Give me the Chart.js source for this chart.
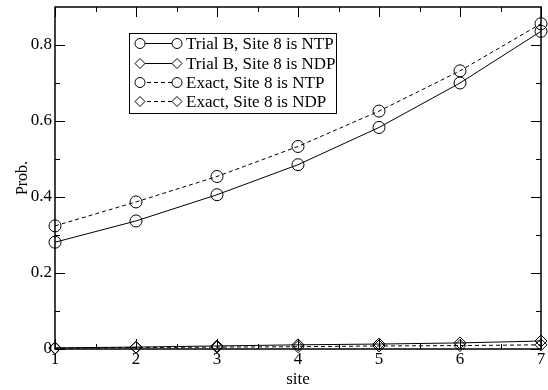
<!DOCTYPE html>
<html>
<head>
<meta charset="utf-8">
<script src="https://cdn.jsdelivr.net/npm/chart.js@4"></script>
<style>
  html, body { margin: 0; padding: 0; background: #fff; }
  #wrap { width: 548px; height: 390px; }
</style>
</head>
<body>
<div id="wrap"><canvas id="probChart"></canvas></div>
<script>
// data
const sites = [1, 2, 3, 4, 5, 6, 7];
const trialNTP = [0.281, 0.337, 0.406, 0.485, 0.583, 0.700, 0.836];
const trialNDP = [0.003, 0.005, 0.008, 0.011, 0.013, 0.016, 0.021];
const exactNTP = [0.324, 0.387, 0.454, 0.533, 0.626, 0.732, 0.856];
const exactNDP = [0.002, 0.004, 0.005, 0.006, 0.008, 0.009, 0.011];

const yTicks = [0, 0.2, 0.4, 0.6, 0.8];
const yMinor = [0.1, 0.3, 0.5, 0.7];
const xMinor = [1.5, 2.5, 3.5, 4.5, 5.5, 6.5];

const seriesNames = ["Trial B, Site 8 is NTP", "Trial B, Site 8 is NDP", "Exact, Site 8 is NTP", "Exact, Site 8 is NDP"];

const FONT = "'Liberation Serif', 'Times New Roman', serif";
const DASH = [4, 3];

function pts(vals) {
    return sites.map((s, i) => ({ x: s, y: vals[i] }));
}

function makeSet(label, vals, style, dashed) {
    return {
        label: label,
        data: pts(vals),
        borderColor: "#000",
        borderWidth: 1,
        borderDash: dashed ? DASH : [],
        pointStyle: style,
        pointRadius: 6,
        pointBorderWidth: 1,
        pointBorderColor: "#000",
        pointBackgroundColor: "rgba(0,0,0,0)",
        tension: 0,
        clip: false
    };
}

// frame + inward ticks on all four sides
const frameTicks = {
    id: "frameTicks",
    beforeDatasetsDraw(chart) {
        const { ctx, chartArea: a, scales } = chart;
        ctx.save();
        ctx.strokeStyle = "#000";
        ctx.lineWidth = 1.5;
        ctx.strokeRect(a.left, a.top, a.right - a.left, a.bottom - a.top);
        ctx.lineWidth = 1;
        ctx.beginPath();
        const tick = (v, len, isY) => {
            if (isY) {
                const y = Math.round(scales.y.getPixelForValue(v)) + 0.5;
                ctx.moveTo(a.left, y); ctx.lineTo(a.left + len, y);
                ctx.moveTo(a.right, y); ctx.lineTo(a.right - len, y);
            } else {
                const x = Math.round(scales.x.getPixelForValue(v)) + 0.5;
                ctx.moveTo(x, a.bottom); ctx.lineTo(x, a.bottom - len);
                ctx.moveTo(x, a.top); ctx.lineTo(x, a.top + len);
            }
        };
        yTicks.forEach(v => tick(v, 10, true));
        yMinor.forEach(v => tick(v, 5, true));
        sites.forEach(v => tick(v, 10, false));
        xMinor.forEach(v => tick(v, 5, false));
        ctx.stroke();
        ctx.restore();
    }
};

// boxed legend with a marker at both ends of each sample line
const boxLegend = {
    id: "boxLegend",
    afterDraw(chart) {
        const { ctx } = chart;
        const left = 129, top = 33, right = 336, bottom = 113;
        const rowY = [43, 63, 82, 101];
        ctx.save();
        ctx.fillStyle = "#fff";
        ctx.fillRect(left, top, right - left, bottom - top);
        ctx.strokeStyle = "#000";
        ctx.lineWidth = 1;
        ctx.strokeRect(left + 0.5, top + 0.5, right - left, bottom - top);
        chart.data.datasets.forEach((ds, i) => {
            const y = rowY[i] + 0.5;
            const x0 = 140, x1 = 177;
            ctx.setLineDash(ds.borderDash);
            ctx.beginPath();
            ctx.moveTo(x0, y); ctx.lineTo(x1, y);
            ctx.stroke();
            ctx.setLineDash([]);
            ctx.fillStyle = "#fff";
            [x0, x1].forEach(x => {
                Chart.helpers.drawPoint(ctx, { pointStyle: ds.pointStyle, radius: 5, borderWidth: 1 }, x, y);
            });
            ctx.fillStyle = "#000";
            ctx.font = "17px " + FONT;
            ctx.textBaseline = "middle";
            ctx.fillText(ds.label, 186, y + 1);
        });
        ctx.restore();
    }
};

const ctx = document.getElementById("probChart").getContext("2d");
new Chart(ctx, {
    type: "line",
    data: {
        datasets: [
            makeSet(seriesNames[0], trialNTP, "circle", false),
            makeSet(seriesNames[1], trialNDP, "rectRot", false),
            makeSet(seriesNames[2], exactNTP, "circle", true),
            makeSet(seriesNames[3], exactNDP, "rectRot", true)
        ]
    },
    options: {
        responsive: true,
        maintainAspectRatio: false,
        animation: false,
        layout: { padding: { top: 4, right: 3, left: 0, bottom: 0 } },
        plugins: {
            legend: { display: false },
            tooltip: { enabled: false }
        },
        scales: {
            x: {
                type: "linear",
                min: 1,
                max: 7,
                afterBuildTicks: (s) => { s.ticks = sites.map(v => ({ value: v })); },
                afterFit: (s) => { s.height = 41; },
                grid: { display: false, drawTicks: false },
                border: { display: false },
                ticks: { color: "#000", font: { family: FONT, size: 17 }, padding: 0, maxRotation: 0 },
                title: { display: true, text: "site", color: "#000", font: { family: FONT, size: 17 }, padding: 0 }
            },
            y: {
                min: 0,
                max: 0.9,
                afterBuildTicks: (s) => { s.ticks = yTicks.map(v => ({ value: v })); },
                afterFit: (s) => { s.width = 55; s.paddingTop = 0; },
                grid: { display: false, drawTicks: false },
                border: { display: false },
                ticks: {
                    color: "#000",
                    font: { family: FONT, size: 17, lineHeight: 0.9 },
                    padding: 3,
                    callback: (v) => String(v)
                },
                title: { display: true, text: "Prob.", color: "#000", font: { family: FONT, size: 16 }, padding: { top: 13, bottom: 0 } }
            }
        }
    },
    plugins: [frameTicks, boxLegend]
});
</script>
</body>
</html>
